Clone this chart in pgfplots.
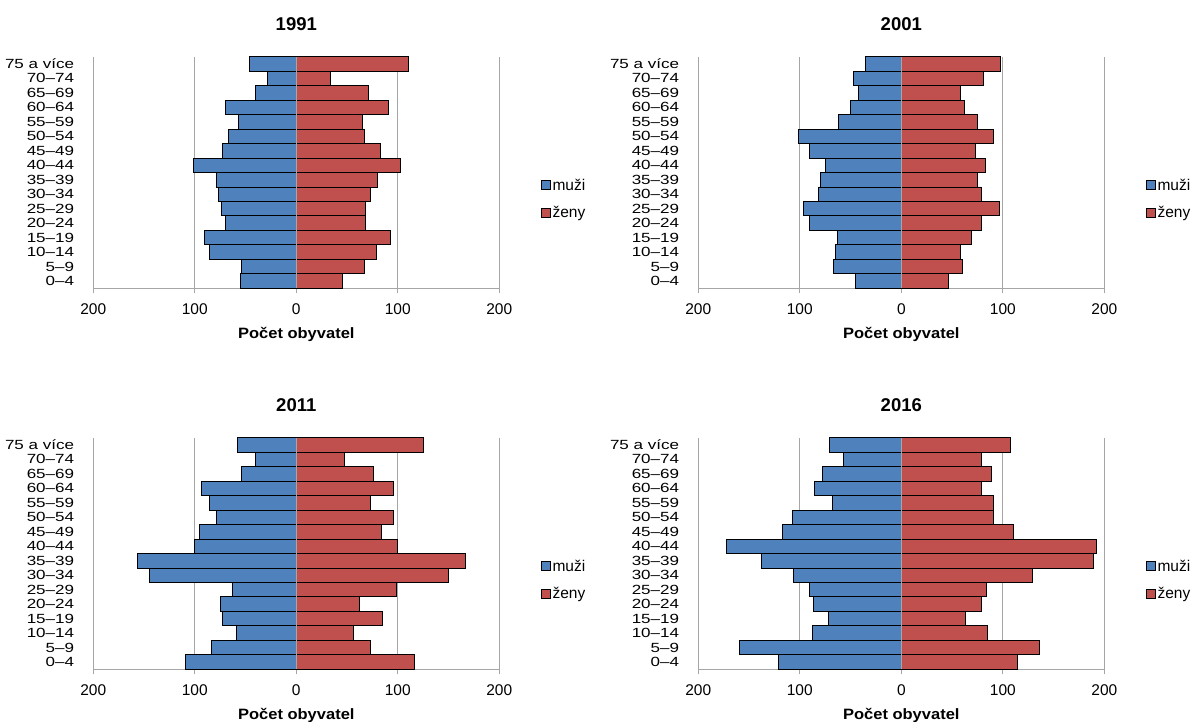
\documentclass[border=0pt]{standalone}
\usepackage{fontspec}
\setmainfont{Liberation Sans}
\newfontfamily\ylabfont{Liberation Sans}[FakeStretch=1.28]
\newfontfamily\xlabfont{Liberation Sans}[FakeStretch=1.1]
\usepackage{pgfplots}
\usepackage{pgfplotstable}
\pgfplotsset{compat=1.18}
\definecolor{mblue}{HTML}{4F81BD}
\definecolor{fred}{HTML}{C0504D}
\definecolor{gridgray}{HTML}{A6A6A6}

% k: 0 = 0–4 ... 15 = 75 a více ; m = muži, z = ženy
\pgfplotstableread{
k m z
0 55.4 45
1 53.8 67.5
2 85.6 78.7
3 90.5 92.5
4 70 68.5
5 74 68.5
6 77 73
7 79 80
8 101 103
9 73 83
10 67 67
11 57 65
12 70 91
13 40 71
14 28 34
15 46 110
}\tA
\pgfplotstableread{
k m z
0 45 46
1 66.4 60.5
2 64.8 58
3 62.8 69.4
4 90.5 79.3
5 96.7 96.4
6 81.6 78.6
7 80 75
8 75 82.6
9 90.5 73
10 101 91
11 62 75
12 50 62
13 42.4 58
14 47 81
15 35 98
}\tB
\pgfplotstableread{
k m z
0 108.9 116.4
1 83.3 73.4
2 59.3 56.7
3 73.1 85.2
4 74.8 62
5 63.3 98.7
6 144.6 150.2
7 156.7 166.2
8 100.7 100
9 95.7 83.6
10 78.4 96
11 85.6 73.4
12 93.8 95.4
13 53.8 76.4
14 40.3 47.9
15 58.4 125.6
}\tC
\pgfplotstableread{
k m z
0 121.4 114.8
1 159.5 136.5
2 87.2 85.2
3 71.7 63.5
4 86.5 78.6
5 90.8 84.2
6 106.3 128.9
7 137.8 189.5
8 172.4 191.8
9 116.8 110.9
10 107.2 91.1
11 67.8 91.1
12 85.5 79.3
13 77.3 89.1
14 56.9 79.3
15 71 107.9
}\tD

\pgfplotsset{pyr/.style={
 scale only axis, width=406pt, height=231.6pt, anchor=south west,
 xmin=-200, xmax=200, ymin=-0.5, ymax=15.5,
 xbar, bar width=1, bar shift=0pt,
 axis x line*=bottom, axis y line*=left,
 x axis line style={-, draw=gridgray, line width=1pt},
 y axis line style={draw=none},
 xtick={-200,-100,0,100,200}, xticklabels={200,100,0,100,200},
 xtick align=outside, major tick length=5pt,
 major x tick style={draw=gridgray, line width=1pt},
 major y tick style={draw=none},
 xmajorgrids, grid style={draw=gridgray, line width=1pt},
 ytick={0,...,15},
 yticklabels={0–4,5–9,10–14,15–19,20–24,25–29,30–34,35–39,40–44,45–49,50–54,55–59,60–64,65–69,70–74,75 a více},
 yticklabel style={font=\ylabfont\fontsize{13.3}{13.3}\selectfont, anchor=east, inner sep=0pt, xshift=-14pt},
 xticklabel style={font=\fontsize{15.5}{16}\selectfont, anchor=base, inner sep=0pt, yshift=-21pt},
 xlabel={Počet obyvatel},
 xlabel style={font=\xlabfont\bfseries\fontsize{15}{16}\selectfont, at={(axis description cs:0.5,0)}, anchor=base, yshift=-50pt, inner sep=0pt},
 title style={font=\bfseries\fontsize{18.5}{20}\selectfont, at={(axis description cs:0.5,1)}, anchor=base, yshift=20pt, inner sep=0pt},
 legend style={draw=none, fill=none, at={(1.102,0.385)}, anchor=west, inner sep=0pt, row sep=11pt, font=\fontsize{15.5}{16}\selectfont, /tikz/every even column/.append style={column sep=3pt}},
 legend image code/.code={\draw[#1, line width=0.6pt] (0pt,-4.5pt) rectangle (9pt,4.5pt);},
 legend cell align=left,
 every axis plot/.append style={line width=0.9pt},
}}

\begin{document}
\begin{tikzpicture}
\useasboundingbox (0,0) rectangle (1196pt,722pt);
\begin{axis}[pyr, at={(93.3pt,433.7pt)}, title={1991}]
\addplot[fill=mblue, draw=black] table[x expr=-\thisrow{m}, y=k] {\tA};
\addplot[fill=fred, draw=black] table[x=z, y=k] {\tA};
\draw[gridgray, line width=1.2pt] (axis cs:0,-0.5) -- (axis cs:0,15.5);
\legend{muži,ženy}
\end{axis}
\begin{axis}[pyr, at={(698.3pt,433.7pt)}, title={2001}]
\addplot[fill=mblue, draw=black] table[x expr=-\thisrow{m}, y=k] {\tB};
\addplot[fill=fred, draw=black] table[x=z, y=k] {\tB};
\draw[gridgray, line width=1.2pt] (axis cs:0,-0.5) -- (axis cs:0,15.5);
\legend{muži,ženy}
\end{axis}
\begin{axis}[pyr, at={(93.3pt,52.7pt)}, title={2011}]
\addplot[fill=mblue, draw=black] table[x expr=-\thisrow{m}, y=k] {\tC};
\addplot[fill=fred, draw=black] table[x=z, y=k] {\tC};
\draw[gridgray, line width=1.2pt] (axis cs:0,-0.5) -- (axis cs:0,15.5);
\legend{muži,ženy}
\end{axis}
\begin{axis}[pyr, at={(698.3pt,52.7pt)}, title={2016}]
\addplot[fill=mblue, draw=black] table[x expr=-\thisrow{m}, y=k] {\tD};
\addplot[fill=fred, draw=black] table[x=z, y=k] {\tD};
\draw[gridgray, line width=1.2pt] (axis cs:0,-0.5) -- (axis cs:0,15.5);
\legend{muži,ženy}
\end{axis}
\end{tikzpicture}
\end{document}
